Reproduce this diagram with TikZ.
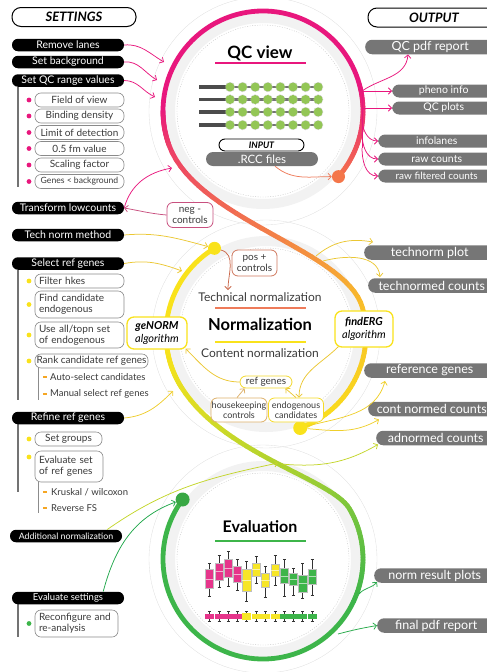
\documentclass[tikz,border=0pt]{standalone}
\usepackage{fontspec}
\setmainfont{Lato}
\usetikzlibrary{arrows.meta,calc}
\definecolor{qpink}{HTML}{E8177D}
\definecolor{qcoral}{HTML}{F4764A}
\definecolor{qorange}{HTML}{F7923A}
\definecolor{qyellow}{HTML}{F9E21B}
\definecolor{qlime}{HTML}{C8DB2C}
\definecolor{qgreen}{HTML}{3DB54A}
\colorlet{cPO}{qpink!70!qorange}
\colorlet{cOY}{qorange!45!qyellow}
\colorlet{cYL}{qyellow!65!qlime}
\colorlet{cLG}{qlime!45!qgreen}
\definecolor{pillgray}{HTML}{767676}
\definecolor{boxline}{HTML}{8A8A8A}
\definecolor{txt}{HTML}{3A3A3A}
\definecolor{salmonc}{HTML}{EE7B5A}
\definecolor{negcol}{HTML}{C8507F}
\definecolor{goldc}{HTML}{EBC733}
\definecolor{limec}{HTML}{C3D52A}
\definecolor{egreen}{HTML}{22A84C}
\definecolor{tanc}{HTML}{DDB06A}
\definecolor{lanegreen}{HTML}{93C656}
\definecolor{bpink}{HTML}{E6358B}
\definecolor{byellow}{HTML}{F7E627}
\definecolor{bgreen}{HTML}{3DB54A}
\definecolor{dashor}{HTML}{F5A623}

% gradient arc: cx, cy(screen), r, a1, a2, colA, colB
\newcommand\GArc[7]{%
  \foreach \k in {1,...,36}{%
    \pgfmathsetmacro\aa{#4+(#5-(#4))*(\k-1)/36}%
    \pgfmathsetmacro\ab{#4+(#5-(#4))*\k/36}%
    \pgfmathtruncatemacro\mx{100-100*(\k-0.5)/36}%
    \draw[strand,color=#6!\mx!#7] ({#1+#3*cos(\aa)},{-#2+#3*sin(\aa)}) -- ({#1+#3*cos(\ab)},{-#2+#3*sin(\ab)});
  }}
% gradient cubic bezier, colours in \gcA, \gcB
\newcommand\GBez[8]{%
  \foreach \k in {1,...,30}{%
    \pgfmathsetmacro\ta{(\k-1)/30}%
    \pgfmathsetmacro\tb{\k/30}%
    \pgfmathsetmacro\xa{(1-\ta)*(1-\ta)*(1-\ta)*(#1)+3*(1-\ta)*(1-\ta)*\ta*(#3)+3*(1-\ta)*\ta*\ta*(#5)+\ta*\ta*\ta*(#7)}%
    \pgfmathsetmacro\ya{(1-\ta)*(1-\ta)*(1-\ta)*(#2)+3*(1-\ta)*(1-\ta)*\ta*(#4)+3*(1-\ta)*\ta*\ta*(#6)+\ta*\ta*\ta*(#8)}%
    \pgfmathsetmacro\xb{(1-\tb)*(1-\tb)*(1-\tb)*(#1)+3*(1-\tb)*(1-\tb)*\tb*(#3)+3*(1-\tb)*\tb*\tb*(#5)+\tb*\tb*\tb*(#7)}%
    \pgfmathsetmacro\yb{(1-\tb)*(1-\tb)*(1-\tb)*(#2)+3*(1-\tb)*(1-\tb)*\tb*(#4)+3*(1-\tb)*\tb*\tb*(#6)+\tb*\tb*\tb*(#8)}%
    \pgfmathtruncatemacro\mx{100-100*(\k-0.5)/30}%
    \draw[strand,color=\gcA!\mx!\gcB] (\xa,\ya) -- (\xb,\yb);
  }}

\begin{document}
\begin{tikzpicture}[x=1pt,y=1pt,
 strand/.style={line width=4.8pt,line cap=round},
 arr/.style={-{Straight Barb[length=3.2pt,width=6.5pt]},line width=0.75pt},
 setpill/.style={fill=black,text=white,rounded corners=6pt,minimum width=112pt,minimum height=12.5pt,inner sep=0pt,font=\fontsize{10.5}{12}\selectfont},
 optbox/.style={draw=boxline,line width=0.6pt,rounded corners=6pt,fill=white,minimum width=89pt,minimum height=14pt,inner sep=0pt,text=txt,font=\fontsize{10}{11}\selectfont},
 optleft/.style={optbox,align=left,text width=81pt,inner xsep=4pt},
 outpill/.style={fill=pillgray,text=white,rounded corners=7pt,anchor=west,minimum height=14.5pt,inner sep=0pt,font=\fontsize{12.5}{14}\selectfont},
 outsmall/.style={outpill,minimum height=13pt,font=\fontsize{10.5}{12}\selectfont},
 hdr/.style={draw=black,line width=1pt,rounded corners=9pt,minimum height=19pt,inner sep=0pt,font=\fontsize{13}{15}\selectfont\bfseries\itshape},
 subtxt/.style={anchor=west,inner sep=0pt,text=txt,font=\fontsize{9.5}{11}\selectfont},
 ctrbox/.style={draw,line width=0.8pt,rounded corners=6pt,fill=white,inner sep=0pt,align=center,text=txt,font=\fontsize{10}{11}\selectfont},
 algbox/.style={draw=qyellow,line width=1.3pt,rounded corners=7pt,fill=white,inner sep=0pt,align=center,font=\fontsize{11}{12.5}\selectfont},
 dot/.style={circle,inner sep=0pt,minimum size=13pt},
 gbar/.style={line width=2.4pt,black!55},
 sbar/.style={line width=0.7pt,black!45},
]
\useasboundingbox (0,0) rectangle (487,-672);
\clip (0,0) rectangle (487,-672);

% ---------- faint background rings ----------
\foreach \cx/\cy in {263/111,266/334,263/559}{
  \draw[black!5,line width=10pt] (\cx,-\cy) circle (93);
  \draw[black!25,line width=0.35pt,dash pattern=on 1pt off 1.5pt] (\cx,-\cy) circle (86);
  \draw[black!12,line width=0.35pt] (\cx,-\cy) circle (114);
}

% ---------- strand A (QC -> normalization) ----------
\GArc{263}{111}{100}{-41}{15}{qcoral}{qpink}
\draw[strand,qpink] ([shift={(15:100)}]263,-111) arc[start angle=15,end angle=180,radius=100];
\GArc{263}{111}{100}{180}{200}{qpink}{cPO}
\def\gcA{cPO}\def\gcB{cOY}
\GBez{169}{-145.2}{196.4}{-220.4}{347.1}{-250.1}{362.6}{-308.1}
\GArc{266}{334}{100}{15}{-70}{cOY}{qyellow}

% ---------- strand B (normalization -> evaluation) ----------
\draw[strand,qyellow] ([shift={(121:100)}]266,-334) arc[start angle=121,end angle=190,radius=100];
\GArc{266}{334}{100}{190}{212}{qyellow}{cYL}
\def\gcA{cYL}\def\gcB{cLG}
\GBez{181.2}{-387}{223.6}{-454.8}{332.1}{-478.7}{349.6}{-509}
\GArc{263}{559}{100}{30}{-25}{cLG}{qgreen}
\draw[strand,qgreen] ([shift={(-25:100)}]263,-559) arc[start angle=-25,end angle=-216.5,radius=100];

% ---------- dots ----------
\node[dot,fill=qcoral] (dotQC) at (338.5,-176.6) {};
\node[dot,fill=qyellow] (dotN1) at (214.5,-248.3) {};
\node[dot,fill=qyellow,minimum size=14pt] (dotN2) at (300.2,-428) {};
\node[dot,fill=qgreen!92!black,minimum size=14pt] (dotE) at (182.6,-499.5) {};

% ---------- headers ----------
\node[hdr,minimum width=124pt] (sethdr) at (74,-17) {SETTINGS};
\node[hdr,minimum width=132pt] (outhdr) at (434,-17.5) {OUTPUT};

% ---------- settings column ----------
\draw[gbar] (18,-87) -- (18,-187);
\draw[gbar] (18,-270) -- (18,-400);
\draw[gbar] (18,-424) -- (18,-492);
\draw[gbar] (18,-604) -- (18,-637);
\draw[sbar] (38,-367) -- (38,-400);
\draw[sbar] (38,-482) -- (38,-513);

\node[setpill] (rl) at (68,-45) {Remove lanes};
\node[setpill] (sb) at (68,-62) {Set background};
\node[setpill] (sqc) at (68,-80.5) {Set QC range values};
\node[optbox] (fv) at (79.5,-100) {Field of view};
\node[optbox] (bd) at (79.5,-116) {Binding density};
\node[optbox] (lod) at (79.5,-132.5) {Limit of detection};
\node[optbox] (fm) at (79.5,-148.5) {0.5 fm value};
\node[optbox] (scf) at (79.5,-165) {Scaling factor};
\node[optbox,font=\fontsize{8.6}{10}\selectfont] (gbk) at (79.5,-181.5) {Genes < background};
\foreach \yy in {100,116,132.5,148.5,165,181.5}{\fill[qpink] (29,-\yy) circle (2.4);}

\node[setpill] (tl) at (68,-208) {Transform lowcounts};
\node[setpill] (tn) at (68,-235) {Tech norm method};
\node[setpill] (srg) at (68,-263.5) {Select ref genes};
\node[optleft] (fh) at (79.5,-281) {Filter hkes};
\node[optleft,minimum height=27pt] (fce) at (79.5,-304.5) {Find candidate\\endogenous};
\node[optleft,minimum height=26pt] (uat) at (79.5,-335) {Use all/topn set\\of endogenous};
\node[optbox,minimum width=113pt] (rcr) at (91.5,-361) {Rank candidate ref genes};
\foreach \yy in {281,304.5,335,361}{\fill[qyellow] (29,-\yy) circle (2.4);}
\draw[dashor,line width=1.2pt] (43,-377) -- (47,-377);
\draw[dashor,line width=1.2pt] (43,-394) -- (47,-394);
\node[subtxt] (asc) at (50,-377) {Auto-select candidates};
\node[subtxt] (msr) at (50,-394) {Manual select ref genes};

\node[setpill] (rrg) at (68,-418) {Refine ref genes};
\node[optbox,minimum width=67pt] (sg) at (68.5,-439) {Set groups};
\node[optleft,text width=60pt,minimum width=68pt,minimum height=31pt] (esr) at (69,-466.5) {Evaluate set\\of ref genes};
\fill[qyellow] (29,-439) circle (2.4);
\fill[qyellow] (29,-457) circle (2.4);
\draw[dashor,line width=1.2pt] (43,-492) -- (47,-492);
\draw[dashor,line width=1.2pt] (43,-508) -- (47,-508);
\node[subtxt] (kw) at (51,-492) {Kruskal / wilcoxon};
\node[subtxt] (rfs) at (51,-508) {Reverse FS};

\node[setpill,font=\fontsize{8.8}{10}\selectfont] (an) at (66,-536) {Additional normalization};
\node[setpill,font=\fontsize{9.5}{11}\selectfont] (es) at (68,-598) {Evaluate settings};
\node[optleft,text width=75pt,minimum width=83pt,minimum height=27pt] (rca) at (76.5,-623.5) {Reconfigure and\\re-analysis};
\fill[qgreen] (29,-623.5) circle (2.4);

% ---------- QC view content ----------
\node[font=\fontsize{17}{19}\selectfont\bfseries] (qcv) at (260,-53) {QC view};
\draw[qpink,line width=2pt] (215,-63) -- (306,-63);
\foreach \ly in {87,99.5,112,125}{
  \draw[line width=3.5pt,black!70] (199,-\ly) -- (226,-\ly);
  \draw[line width=2.2pt,black!55] (226,-\ly) -- (318,-\ly);
  \foreach \i in {0,...,7}{
    \fill[lanegreen] ({230+12.6*\i},-\ly) circle (4.6);
    \draw[black!30,line width=0.3pt,dash pattern=on 0.8pt off 0.8pt] ({230+12.6*\i},-\ly) circle (4.9);
  }
}
\node[draw=black,line width=0.9pt,rounded corners=6pt,minimum width=85pt,minimum height=12pt,inner sep=0pt,font=\fontsize{9}{10}\selectfont\bfseries\itshape] (inp) at (261.5,-145) {INPUT};
\node[fill=pillgray,text=white,rounded corners=7pt,minimum width=112pt,minimum height=14pt,inner sep=0pt,font=\fontsize{11.5}{13}\selectfont] (rcc) at (262,-159) {.RCC files};

% ---------- Normalization content ----------
\node[text=txt,font=\fontsize{12}{14}\selectfont] (tech) at (260,-297) {Technical normalization};
\draw[salmonc,line width=2pt] (215,-308) -- (306,-308);
\node[font=\fontsize{16.5}{19}\selectfont\bfseries] (norm) at (260,-324.5) {Normalization};
\draw[qyellow,line width=2pt] (215,-342) -- (306,-342);
\node[text=txt,font=\fontsize{12}{14}\selectfont] (cont) at (260,-353) {Content normalization};
\node[ctrbox,draw=salmonc!85!black!90,minimum width=45pt,minimum height=26pt] (posc) at (254.5,-263) {pos +\\controls};
\node[ctrbox,draw=negcol,minimum width=46pt,minimum height=25pt] (negc) at (190,-215) {neg -\\controls};
\node[algbox,minimum width=60pt,minimum height=32pt] (genorm) at (157,-333) {\textbf{\textit{geNORM}}\\\textit{algorithm}};
\node[algbox,minimum width=58pt,minimum height=36pt] (finderg) at (364,-329) {\textbf{\textit{findERG}}\\\textit{algorithm}};
\node[ctrbox,draw=qyellow!80!tanc,minimum width=52pt,minimum height=12pt] (refgenes) at (266,-382) {ref genes};
\node[ctrbox,draw=tanc,minimum width=56pt,minimum height=24pt,font=\fontsize{9}{10.5}\selectfont] (hk) at (239,-410) {housekeeping\\controls};
\node[ctrbox,draw=qyellow!85!tanc,minimum width=55pt,minimum height=24pt,font=\fontsize{9}{10.5}\selectfont] (endo) at (296,-410) {endogenous\\candidates};

% ---------- Evaluation content ----------
\node[font=\fontsize{16}{19}\selectfont\bfseries] (evl) at (260,-527) {Evaluation};
\draw[qgreen,line width=2pt] (215,-541) -- (306,-541);
\foreach \bx/\bt/\bb/\wt/\wb/\bc in {209.3/569.3/588.3/563.3/596.7/bpink,219/563.3/580/555/587.3/bpink,228.3/559.3/577.3/551/586.7/bpink,237.3/566/581.7/559.3/590.7/bpink,246.7/568.7/590.7/561/601/byellow,256/562.7/575.7/556/583.3/byellow,265.3/573.3/587.3/566.7/597.3/byellow,275/564.3/576/555/585/byellow,284.3/568.3/583.3/559.3/596/bgreen,293.3/573.3/585/568.3/595/bgreen,302.7/575/591.7/563.3/598.3/bgreen,312/569/584/559/595/bgreen}{
  \draw[black!80,line width=0.6pt] (\bx,-\wt) -- (\bx,-\wb);
  \draw[black!80,line width=0.6pt] ({\bx-1.5},-\wt) -- ({\bx+1.5},-\wt);
  \draw[black!80,line width=0.6pt] ({\bx-1.5},-\wb) -- ({\bx+1.5},-\wb);
  \filldraw[fill=\bc,draw=black!25,line width=0.3pt] ({\bx-4.3},-\bt) rectangle ({\bx+4.3},-\bb);
  \draw[white!60!\bc,line width=0.4pt] ({\bx-4.3},{-(\bt+\bb)/2}) -- ({\bx+4.3},{-(\bt+\bb)/2});
  \draw[black!80,line width=0.6pt] (\bx,-611) -- (\bx,-621);
  \draw[black!80,line width=0.6pt] ({\bx-1.5},-611) -- ({\bx+1.5},-611);
  \draw[black!80,line width=0.6pt] ({\bx-1.5},-621) -- ({\bx+1.5},-621);
  \fill[\bc] ({\bx-4.5},-613.5) rectangle ({\bx+4.5},-618.5);
}
\fill[byellow] (242,-612.5) rectangle (251.4,-619.5);

% ---------- outputs ----------
\node[outpill,minimum width=130pt] (qcpdf) at (365,-47) {QC pdf report};
\node[outsmall,minimum width=103pt] (pheno) at (392,-91) {pheno info};
\node[outsmall,minimum width=103pt] (qcplots) at (392,-108) {QC plots};
\node[outsmall,minimum width=117pt] (infol) at (378,-141) {infolanes};
\node[outsmall,minimum width=117pt] (rawc) at (378,-159) {raw counts};
\node[outsmall,minimum width=117pt,font=\fontsize{10}{12}\selectfont] (rawf) at (378,-176) {raw filtered counts};
\node[outpill,minimum width=131pt] (tplot) at (364,-252.5) {technorm plot};
\node[outpill,minimum width=127pt] (tcounts) at (368,-285.5) {technormed counts};
\node[outpill,minimum width=131pt] (refg) at (364,-370.5) {reference genes};
\node[outpill,minimum width=127pt] (cncounts) at (368,-409) {cont normed counts};
\node[outpill,minimum width=119pt] (adn) at (376,-438) {adnormed counts};
\node[outpill,minimum width=121pt] (nrp) at (374,-575.5) {norm result plots};
\node[outpill,minimum width=118pt] (fpr) at (377,-625.5) {final pdf report};

% ---------- coordinates for free ends ----------
\coordinate (qa1) at (164,-62);
\coordinate (qa2) at (157,-80);
\coordinate (qa3) at (155,-97);
\coordinate (qin) at (172,-168);
\coordinate (techpt) at (228,-290);
\coordinate (nl1) at (182,-271);
\coordinate (nl2) at (173,-391);
\coordinate (bandB) at (278,-463);
\coordinate (bandB2) at (281,-464);
\coordinate (qr1) at (362,-91);
\coordinate (qr2) at (362,-108);
\coordinate (qr3) at (362,-118);
\coordinate (qr4) at (362,-133);
\coordinate (qr5) at (362,-148);
\coordinate (nb1) at (316,-256);
\coordinate (nb2) at (323,-261);
\coordinate (er1) at (359,-594);
\coordinate (er2) at (338,-634);

% ---------- connectors ----------
\draw[arr,qpink] (rl.east) to[out=5,in=150] (qa1);
\draw[arr,qpink] (sb.east) to[out=5,in=150] (qa2);
\draw[arr,qpink] (sqc.east) to[out=0,in=155] (qa3);
\draw[arr,qpink] (tl.east) to[out=75,in=190] (qin);
\draw[arr,negcol] (negc.west) to[out=175,in=-10] (tl.east);
\draw[arr,salmonc] ($(rcc.south)+(13,0)$) to[out=-40,in=180] (dotQC);
\draw[arr,salmonc!85!black] (dotN1) to[out=-15,in=90] (techpt);
\draw[arr,goldc] (tn.east) to[out=5,in=165] (dotN1);
\draw[arr,goldc] (srg.east) to[out=10,in=160] (nl1);
\draw[arr,goldc!80!qyellow] (rrg.east) to[out=5,in=225] (nl2);
\draw[arr,limec] ($(an.north east)+(-15,0)$) to[out=35,in=192] (bandB);
\draw[arr,limec] (bandB2) to[out=-5,in=210] ($(adn.south west)+(2,1)$);
\draw[arr,egreen] ($(es.north east)+(-21,0)$) to[out=75,in=200] (dotE);

\draw[qpink,line width=0.75pt] (qr1) -- (qr5);
\draw[arr,qpink] (qr1) to[out=35,in=-95] ($(qcpdf.south west)+(43,0)$);
\draw[arr,qpink] (qr1) -- (pheno.west);
\draw[arr,qpink] (qr2) -- (qcplots.west);
\draw[arr,qpink] (qr3) to[out=-90,in=180] (infol.west);
\draw[arr,qpink] (qr4) to[out=-90,in=180] (rawc.west);
\draw[arr,qpink] (qr5) to[out=-90,in=180] (rawf.west);

\draw[arr,goldc] (nb1) to[out=40,in=170] ($(tplot.north west)+(9,3)$);
\draw[arr,goldc] (nb2) to[out=15,in=95] ($(tcounts.north west)+(12,1)$);
\draw[arr,goldc!70!qyellow] (dotN2) to[out=15,in=-105] ($(refg.south west)+(21,-3)$);
\draw[arr,goldc!70!qyellow] (dotN2) to[out=-5,in=-150] ($(cncounts.south west)+(11,-3)$);

\draw[arr,tanc] ($(hk.north)+(-2,0)$) -- ($(refgenes.south west)+(5,0)$);
\draw[arr,goldc] (endo.north) -- ($(refgenes.south east)+(-7,0)$);
\draw[arr,goldc] (refgenes.west) to[out=180,in=-45] ($(genorm.south east)+(-2,1)$);
\draw[arr,goldc] ($(finderg.south west)+(4,1)$) to[out=225,in=90] ($(endo.north)+(3,0)$);

\draw[arr,egreen!80!qgreen] (er1) to[out=50,in=230] ($(nrp.south west)+(3,1)$);
\draw[arr,egreen!80!qgreen] (er2) to[out=15,in=190] (fpr.west);
\end{tikzpicture}
\end{document}
